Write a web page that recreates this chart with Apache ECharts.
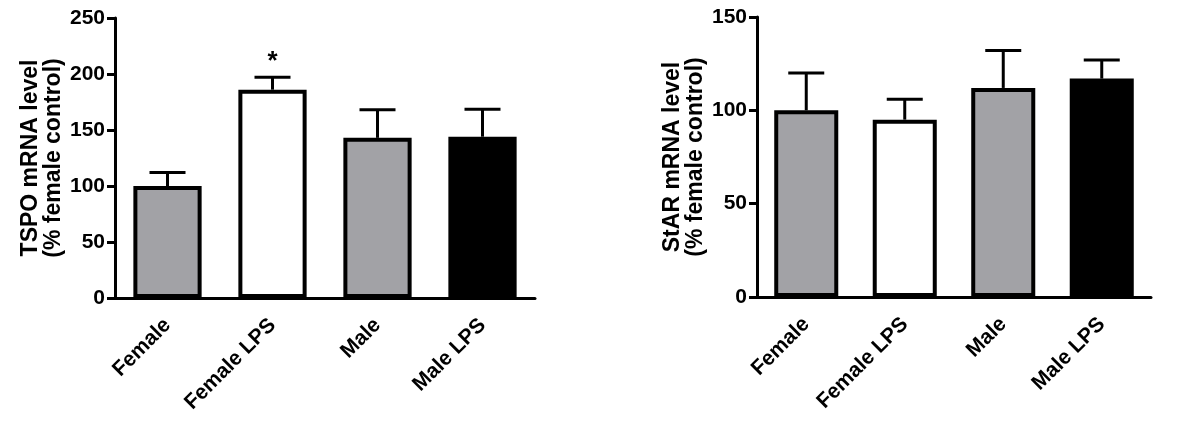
<!DOCTYPE html>
<html>
<head>
<meta charset="utf-8">
<script src="https://cdn.jsdelivr.net/npm/echarts@6/dist/echarts.min.js"></script>
<style>
  html, body { margin: 0; padding: 0; background: #fff; }
  #chart { width: 1200px; height: 421px; }
</style>
</head>
<body>
<div id="chart"></div>
<script>
// data
const categories = ['Female', 'Female LPS', 'Male', 'Male LPS'];
const barColors = ['#a2a2a6', '#ffffff', '#a2a2a6', '#000000'];

const tspoMean = [100, 186, 143, 144];
const tspoErr = [12, 11, 25, 24.5];
const tspoSig = ['', '*', '', ''];

const starMean = [100, 95, 112, 117];
const starErr = [20, 11, 20, 10];
const starSig = ['', '', '', ''];

const font = '"Liberation Sans", Arial, sans-serif';

let myChart = echarts.init(document.getElementById('chart'));

function xAxisFor(gridIndex) {
    return {
        type: 'category',
        gridIndex: gridIndex,
        data: categories,
        axisLine: { lineStyle: { color: '#000', width: 3 } },
        axisTick: { alignWithLabel: true, length: 8, lineStyle: { color: '#000', width: 3 } },
        axisLabel: {
            rotate: 45, margin: 24, color: '#000',
            fontFamily: font, fontWeight: 'bold', fontSize: 21
        }
    };
}

function yAxisFor(gridIndex, max, name) {
    return {
        type: 'value',
        gridIndex: gridIndex,
        min: 0, max: max, interval: 50,
        name: name,
        nameLocation: 'middle',
        nameGap: 50,
        nameTextStyle: {
            color: '#000', fontFamily: font, fontWeight: 'bold',
            fontSize: 23, lineHeight: 23
        },
        splitLine: { show: false },
        axisLine: { show: true, lineStyle: { color: '#000', width: 3 } },
        axisTick: { show: true, length: 8, lineStyle: { color: '#000', width: 3 } },
        axisLabel: {
            margin: 10, color: '#000',
            fontFamily: font, fontWeight: 'bold', fontSize: 21
        }
    };
}

function barSeries(idx, means) {
    return {
        type: 'bar',
        xAxisIndex: idx, yAxisIndex: idx,
        barWidth: '65%',
        data: means.map((v, i) => ({
            value: v,
            itemStyle: { color: barColors[i], borderColor: '#000', borderWidth: 4 }
        })),
        z: 3
    };
}

function errSeries(idx, means, errs, sig) {
    return {
        type: 'custom',
        xAxisIndex: idx, yAxisIndex: idx,
        data: means.map((v, i) => [i, v, v + errs[i], sig[i]]),
        renderItem: function (params, api) {
            const base = api.coord([api.value(0), api.value(1)]);
            const top = api.coord([api.value(0), api.value(2)]);
            const hw = 18;
            const children = [
                { type: 'line', shape: { x1: base[0], y1: base[1], x2: top[0], y2: top[1] },
                  style: { stroke: '#000', lineWidth: 3 } },
                { type: 'line', shape: { x1: top[0] - hw, y1: top[1], x2: top[0] + hw, y2: top[1] },
                  style: { stroke: '#000', lineWidth: 3 } }
            ];
            const s = sig[params.dataIndex];
            if (s) {
                children.push({
                    type: 'text',
                    style: {
                        text: s, x: top[0], y: top[1] - 3,
                        align: 'center', verticalAlign: 'bottom',
                        fill: '#000', font: 'bold 26px ' + font
                    }
                });
            }
            return { type: 'group', children: children };
        },
        z: 2
    };
}

myChart.setOption({
    animation: false,
    grid: [
        { left: 115, right: 665, top: 18, bottom: 123 },
        { left: 757, right: 49, top: 17, bottom: 124 }
    ],
    xAxis: [xAxisFor(0), xAxisFor(1)],
    yAxis: [
        yAxisFor(0, 250, 'TSPO mRNA level\n(% female control)'),
        yAxisFor(1, 150, 'StAR mRNA level\n(% female control)')
    ],
    series: [
        errSeries(0, tspoMean, tspoErr, tspoSig),
        barSeries(0, tspoMean),
        errSeries(1, starMean, starErr, starSig),
        barSeries(1, starMean)
    ]
});
</script>
</body>
</html>
